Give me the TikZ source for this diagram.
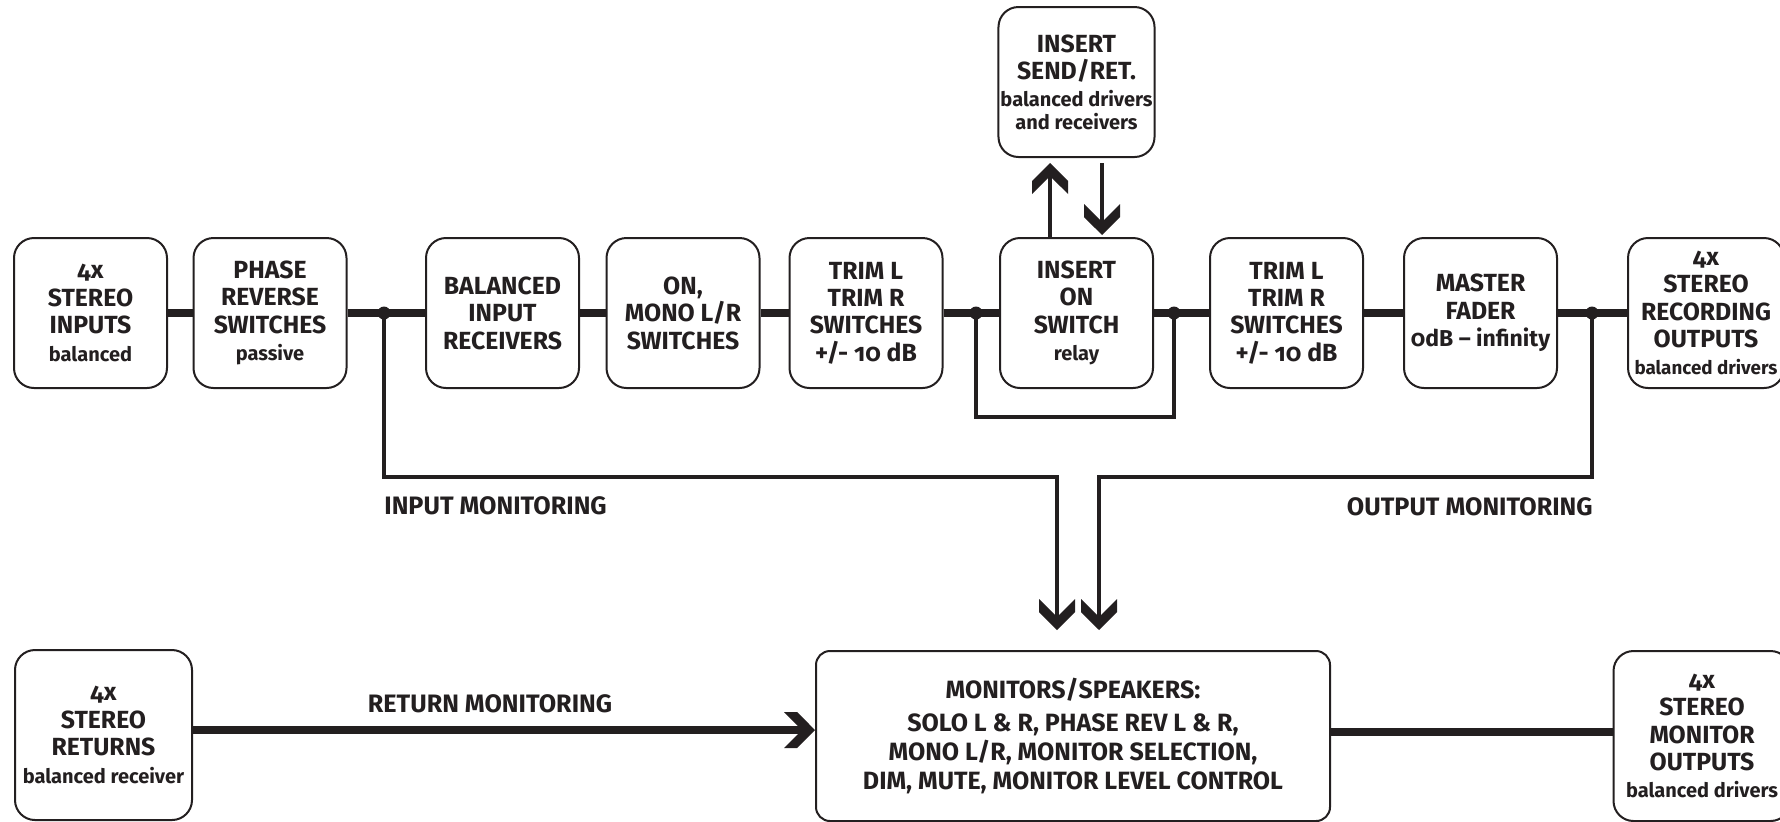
\documentclass[tikz,border=0pt]{standalone}
\usepackage{fontspec}
\setmainfont{Fira Sans}[Numbers=OldStyle]
\usetikzlibrary{arrows.meta}
\definecolor{ink}{HTML}{231F20}

% chevron shaped arrow head
\pgfdeclarearrow{
  name = Chev,
  parameters = {\the\pgfarrowlength,\the\pgfarrowwidth},
  setup code = {
    \pgfarrowssettipend{0pt}
    \pgfarrowssetlineend{-.3\pgfarrowlength}
    \pgfarrowssetbackend{-\pgfarrowlength}
    \pgfarrowssavethe\pgfarrowlength
    \pgfarrowssavethe\pgfarrowwidth
  },
  drawing code = {
    \pgfpathmoveto{\pgfqpoint{0pt}{0pt}}
    \pgfpathlineto{\pgfqpoint{-.58\pgfarrowlength}{.5\pgfarrowwidth}}
    \pgfpathlineto{\pgfqpoint{-\pgfarrowlength}{.5\pgfarrowwidth}}
    \pgfpathlineto{\pgfqpoint{-.42\pgfarrowlength}{0pt}}
    \pgfpathlineto{\pgfqpoint{-\pgfarrowlength}{-.5\pgfarrowwidth}}
    \pgfpathlineto{\pgfqpoint{-.58\pgfarrowlength}{-.5\pgfarrowwidth}}
    \pgfpathclose
    \pgfusepathqfill
  },
  defaults = {length = 15.5pt, width = 18pt}
}

\newcommand\subtxt[1]{{\fontsize{10}{11}\selectfont #1}}

\tikzset{
  blk/.style={draw=ink,line width=1pt,rounded corners=10pt,align=center,
    minimum width=76.5pt,minimum height=75pt,inner sep=1pt,text=ink,
    font=\fontsize{12.4}{13.7}\selectfont\bfseries},
  sidebox/.style={blk,minimum width=88.5pt,minimum height=85pt},
  sig/.style={draw=ink,line width=4pt},
  thin/.style={draw=ink,line width=2.4pt},
  lbl/.style={text=ink,inner sep=0pt,font=\fontsize{12.6}{14}\selectfont\bfseries},
}

\begin{document}
\begin{tikzpicture}[x=0.5pt,y=-0.5pt]
\useasboundingbox (0,0) rectangle (1780,821);

% top chain
\node[blk] (inp)   at (90.5,313)  {4x\\STEREO\\INPUTS\\\subtxt{balanced}};
\node[blk] (phase) at (270,313)   {PHASE\\REVERSE\\SWITCHES\\\subtxt{passive}};
\node[blk] (bal)   at (502.5,313) {BALANCED\\INPUT\\RECEIVERS};
\node[blk] (mono)  at (683,313)   {ON,\\MONO L/R\\SWITCHES};
\node[blk] (trimA) at (866,313)   {TRIM L\\TRIM R\\SWITCHES\\+/- 10 dB};
\node[blk] (insw)  at (1076.5,313){INSERT\\ON\\SWITCH\\\subtxt{relay}};
\node[blk] (trimB) at (1286.5,313){TRIM L\\TRIM R\\SWITCHES\\+/- 10 dB};
\node[blk] (fader) at (1480.5,313){MASTER\\FADER\\{\fontsize{11.5}{13}\selectfont 0dB -- infinity}};
\node[blk,minimum width=78pt] (rec) at (1706,313)
  {4x\\STEREO\\RECORDING\\OUTPUTS\\{\fontsize{9.4}{11}\selectfont balanced drivers}};
\node[blk] (insr)  at (1076.5,82) {INSERT\\SEND/RET.\\\subtxt{balanced drivers}\\[-2.5pt]\subtxt{and receivers}};

% bottom row
\node[sidebox] (ret) at (103.5,735) {4x\\STEREO\\RETURNS\\\subtxt{balanced receiver}};
\node[blk,minimum width=257pt,minimum height=85pt,rounded corners=7pt,
  font=\fontsize{12.5}{14.6}\selectfont\bfseries] (mon) at (1073,736)
  {MONITORS/SPEAKERS:\\[2pt]SOLO L \& R, PHASE REV L \& R,\\MONO L/R, MONITOR SELECTION,\\DIM, MUTE, MONITOR LEVEL CONTROL};
\node[sidebox] (mout) at (1702,736) {4x\\STEREO\\MONITOR\\OUTPUTS\\\subtxt{balanced drivers}};

\coordinate (j1) at (384,313);
\coordinate (j2) at (976,313);
\coordinate (j3) at (1174,313);
\coordinate (j4) at (1592,313);
\coordinate (inarr) at (1057,630);
\coordinate (outarr) at (1099,630);

\foreach \a/\b in {inp/phase,phase/bal,bal/mono,mono/trimA,trimA/insw,insw/trimB,trimB/fader,fader/rec}
  \draw[sig] (\a) -- (\b);
\foreach \j in {j1,j2,j3,j4}
  \fill[ink] (\j) circle (6.5);

\draw[thin] (j2) -- ++(0,104) -| (j3);
\draw[thin,-Chev] ([xshift=-13.25pt]insw.north) -- ([xshift=-13.25pt,yshift=-2.5pt]insr.south);
\draw[thin,-Chev] ([xshift=12.75pt,yshift=-2.5pt]insr.south) -- ([xshift=12.75pt,yshift=1pt]insw.north);

\draw[thin,-Chev] (j1) -- ++(0,164) -| (inarr);
\draw[thin,-Chev] (j4) -- ++(0,164) -| (outarr);
\draw[sig,-Chev] ([yshift=2.5pt]ret.east) -- ([yshift=3pt]mon.west);
\draw[sig] ([yshift=2pt]mon.east) -- ([yshift=2pt]mout.west);

\node[lbl,anchor=west] (inlbl)  at (384,506)  {INPUT MONITORING};
\node[lbl,anchor=east] (outlbl) at (1593,507) {OUTPUT MONITORING};
\node[lbl] (retlbl) at (490,704) {RETURN MONITORING};
\end{tikzpicture}
\end{document}
